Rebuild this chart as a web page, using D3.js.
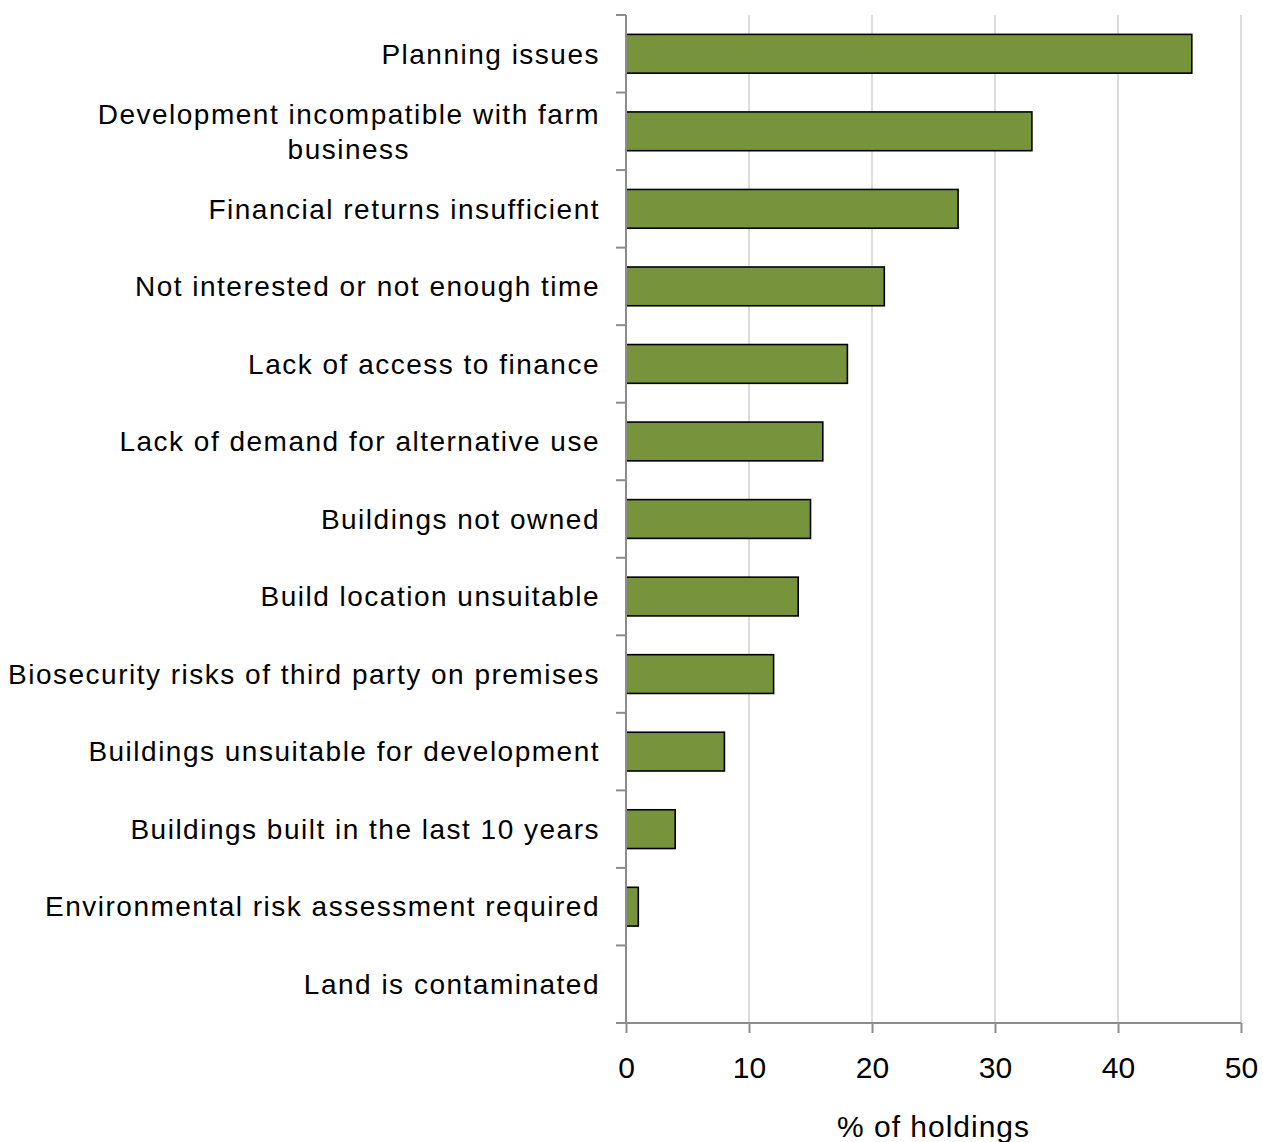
<!DOCTYPE html>
<html>
<head>
<meta charset="utf-8">
<script src="https://cdn.jsdelivr.net/npm/d3@7"></script>
<style>
  html, body { margin: 0; padding: 0; background: #fff; }
  svg { display: block; font-family: "Liberation Sans", Arial, sans-serif; }
</style>
</head>
<body>
<svg id="chart" width="1263" height="1142"></svg>
<script>
// Reasons given for not developing farm buildings
const categories = [
  ["Planning issues"],
  ["Development incompatible with farm", "business"],
  ["Financial returns insufficient"],
  ["Not interested or not enough time"],
  ["Lack of access to finance"],
  ["Lack of demand for alternative use"],
  ["Buildings not owned"],
  ["Build location unsuitable"],
  ["Biosecurity risks of third party on premises"],
  ["Buildings unsuitable for development"],
  ["Buildings built in the last 10 years"],
  ["Environmental risk assessment required"],
  ["Land is contaminated"]
];
const values = [46, 33, 27, 21, 18, 16, 15, 14, 12, 8, 4, 1, 0];
const xTicks = [0, 10, 20, 30, 40, 50];
const xTitle = "% of holdings";

const svg = d3.select("#chart");
const margin = { left: 626, right: 22, top: 15, bottom: 119 };
const W = 1263, H = 1142;
const innerW = W - margin.left - margin.right;
const innerH = H - margin.top - margin.bottom;

const x = d3.scaleLinear().domain([0, 50]).range([0, innerW]);
const y = d3.scaleBand().domain(d3.range(categories.length)).range([0, innerH]).paddingInner(0.5).paddingOuter(0.25);

const g = svg.append("g").attr("transform", `translate(${margin.left},${margin.top})`);

// vertical gridlines
g.selectAll("line.grid").data(xTicks.filter(t => t > 0)).join("line")
  .attr("class", "grid")
  .attr("x1", d => x(d)).attr("x2", d => x(d))
  .attr("y1", 0).attr("y2", innerH)
  .attr("stroke", "#d0d0d0").attr("stroke-width", 1.5);

// bars
g.selectAll("rect.bar").data(values).join("rect")
  .attr("class", "bar")
  .attr("x", 0)
  .attr("y", (d, i) => y(i))
  .attr("width", d => x(d))
  .attr("height", y.bandwidth())
  .attr("fill", d => d > 0 ? "#77933c" : "none")
  .attr("stroke", d => d > 0 ? "#000" : "none")
  .attr("stroke-width", 1.6);

// y axis: category boundaries as ticks
const axisColor = "#8c8c8c";
g.append("line").attr("x1", 0).attr("x2", 0).attr("y1", 0).attr("y2", innerH)
  .attr("stroke", axisColor).attr("stroke-width", 2);
const step = innerH / categories.length;
g.selectAll("line.ytick").data(d3.range(categories.length + 1)).join("line")
  .attr("class", "ytick")
  .attr("x1", -10).attr("x2", 0)
  .attr("y1", d => d * step).attr("y2", d => d * step)
  .attr("stroke", axisColor).attr("stroke-width", 2);

// category labels
const labels = g.selectAll("text.cat").data(categories).join("text")
  .attr("class", "cat")
  .attr("text-anchor", "middle")
  .attr("font-size", 28)
  .attr("letter-spacing", 1.5)
  .attr("fill", "#000");
labels.each(function (lines, i) {
  const t = d3.select(this);
  const cy = y(i) + y.bandwidth() / 2;
  const lh = 35;
  lines.forEach((ln, k) => {
    t.append("tspan")
      .attr("x", 0)
      .attr("y", cy + (k - (lines.length - 1) / 2) * lh)
      .attr("dy", "0.35em")
      .text(ln);
  });
});
// right-align each label block at a fixed gap from the axis, centring multi-line text
labels.each(function () {
  const bb = this.getBBox();
  const shift = -26 - (bb.x + bb.width);
  d3.select(this).attr("transform", `translate(${shift},0)`);
});

// x axis
const xAxis = g.append("g").attr("transform", `translate(0,${innerH})`)
  .call(d3.axisBottom(x).tickValues(xTicks).tickSize(10).tickPadding(24).tickFormat(d3.format("d")));
xAxis.select(".domain").attr("stroke", axisColor).attr("stroke-width", 2).attr("d", `M-10,0H${innerW}`);
xAxis.selectAll(".tick line").attr("stroke", axisColor).attr("stroke-width", 2);
xAxis.selectAll(".tick text").attr("font-size", 30).attr("fill", "#000")
  .attr("font-family", "'Liberation Sans', Arial, sans-serif");

g.append("text")
  .attr("x", innerW / 2).attr("y", innerH + 114)
  .attr("text-anchor", "middle").attr("font-size", 30).attr("letter-spacing", 1)
  .attr("fill", "#000")
  .text(xTitle);
</script>
</body>
</html>
